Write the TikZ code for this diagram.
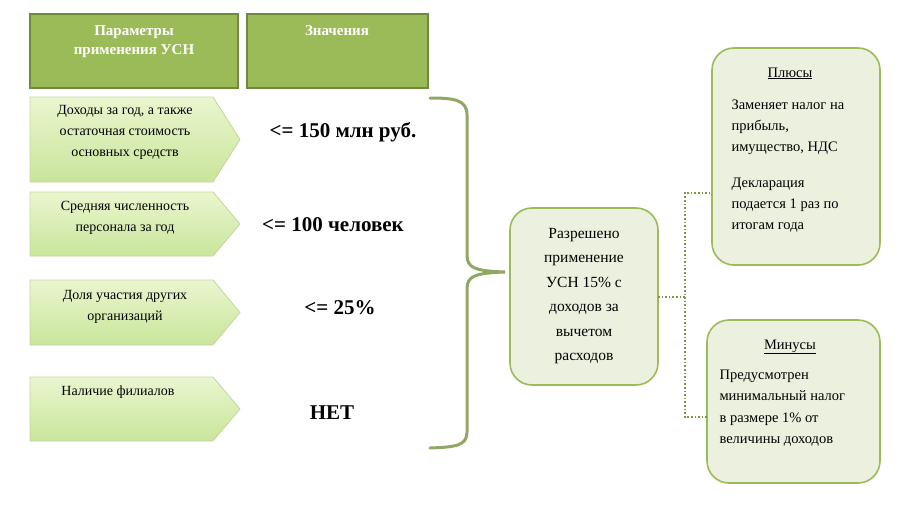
\documentclass[tikz,border=0pt]{standalone}
\usepackage{fontspec}
\setmainfont{Liberation Serif}
\usetikzlibrary{shapes.symbols}
\definecolor{hdr}{HTML}{9BBB59}
\definecolor{hdrb}{HTML}{6E8B3D}
\definecolor{pl}{HTML}{EAF6CF}
\definecolor{pd}{HTML}{C9E59B}
\definecolor{pb}{HTML}{C3D69B}
\definecolor{rb}{HTML}{EBF1DE}
\definecolor{brc}{HTML}{8FA864}
\begin{document}
\begin{tikzpicture}[x=1pt,y=-1pt,
  hbox/.style={draw=hdrb,line width=2pt,fill=hdr,text=white,font=\fontsize{15}{19}\selectfont\bfseries,align=center},
  pent/.style={draw=pb,line width=0.8pt,top color=pl,bottom color=pd},
  ptxt/.style={font=\fontsize{14}{21}\selectfont,align=center},
  val/.style={font=\fontsize{21}{24}\selectfont\bfseries},
  rbox/.style={draw=hdr,line width=1.6pt,fill=rb,rounded corners=22pt},
  rtxt/.style={font=\fontsize{14.5}{22}\selectfont,align=left},
  dot/.style={draw=hdr!80!black,line width=1.6pt,dotted}]
\useasboundingbox (0,0) rectangle (900,514);
% headers
\draw[hbox] (30,14) rectangle (238,88);
\node[font=\fontsize{15}{19}\selectfont\bfseries,text=white,align=center] (h1) at (134,42) {Параметры\\применения УСН};
\draw[hbox] (247,14) rectangle (428,88);
\node[font=\fontsize{15}{19}\selectfont\bfseries,text=white] (h2) at (337,31) {Значения};
% pentagons
\foreach \a/\b in {97/182,192/256,280/345,377/441}{
  \path[pent] (30,\a) -- (213,\a) -- (240,{(\a+\b)/2}) -- (213,\b) -- (30,\b) -- cycle;
}
\node[ptxt] (p1) at (125,132) {Доходы за год, а также\\остаточная стоимость\\основных средств};
\node[ptxt] (p2) at (125,218) {Средняя численность\\персонала за год};
\node[ptxt] (p3) at (125,307) {Доля участия других\\организаций};
\node[ptxt] (p4) at (118,392) {Наличие филиалов};
% values
\node[val] (v1) at (343,132) {<= 150 млн руб.};
\node[val] (v2) at (333,225) {<= 100 человек};
\node[val] (v3) at (340,308) {<= 25\%};
\node[val] (v4) at (332,413) {НЕТ};
% brace
\draw[brc,line width=3pt,line cap=round]
  (430,98) .. controls (455,98) and (467,100) .. (467,115)
  -- (467,255) .. controls (467,268) and (475,271) .. (505,272)
  .. controls (475,273) and (467,276) .. (467,289)
  -- (467,432) .. controls (467,446) and (455,447) .. (430,448);
% center and side boxes
\draw[rbox] (510,208) rectangle (658,385);
\node[font=\fontsize{15.5}{24.5}\selectfont,align=center] (c) at (584,296) {Разрешено\\применение\\УСН 15\% с\\доходов за\\вычетом\\расходов};
\coordinate (cr) at (658,297);
\draw[rbox] (712,48) rectangle (880,265);
\node[rtxt,anchor=north] (plh) at (790,64) {\underline{Плюсы}};
\node[rtxt,anchor=north west,font=\fontsize{14.5}{21}\selectfont] (plt) at (728,96) {Заменяет налог на\\прибыль,\\имущество, НДС};
\node[rtxt,anchor=north west,font=\fontsize{14.5}{21}\selectfont] (plt2) at (728,174) {Декларация\\подается 1 раз по\\итогам года};
\draw[rbox] (707,320) rectangle (880,483);
\node[rtxt,anchor=north] (mih) at (790,336) {\underline{Минусы}};
\node[rtxt,anchor=north west,font=\fontsize{14.5}{21.5}\selectfont] (mit) at (716,366) {Предусмотрен\\минимальный налог\\в размере 1\% от\\величины доходов};
\coordinate (pl) at (712,193);
\coordinate (mi) at (707,417);
\draw[dot] (cr) -- (685,297) |- (pl);
\draw[dot] (685,297) |- (mi);
\end{tikzpicture}
\end{document}
